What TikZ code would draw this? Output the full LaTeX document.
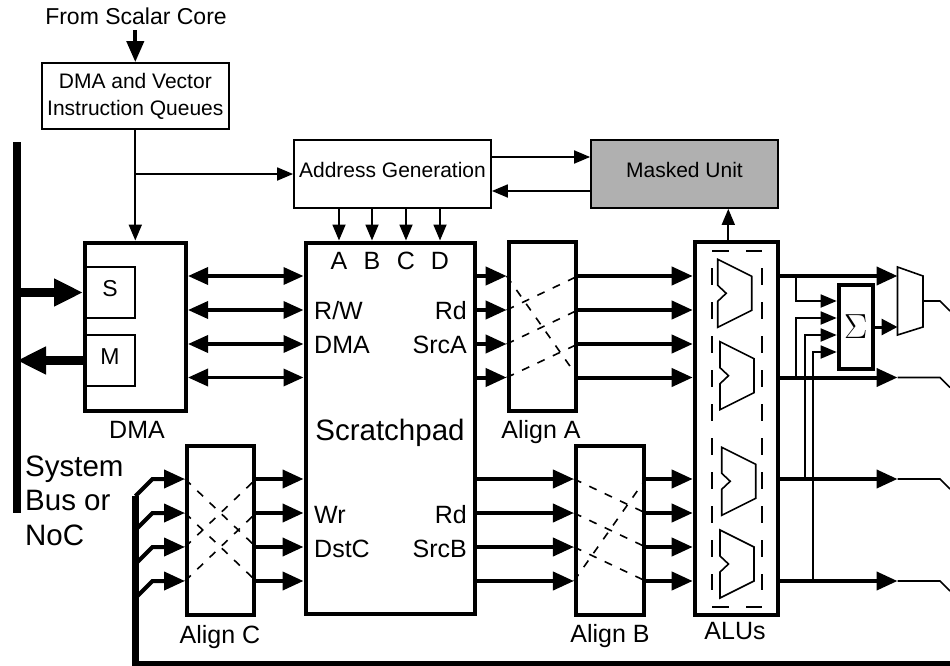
\documentclass[tikz,border=0pt]{standalone}
\usepackage{fontspec}
\setmainfont{Liberation Sans}
\usepackage{xcolor}
\usepackage{tikz}
\usetikzlibrary{arrows.meta}
\definecolor{maskgray}{HTML}{B0B0B0}
\tikzset{
  box/.style={draw=black, line width=1.8pt, inner sep=0pt, align=center, text height=0.72em, text depth=0pt},
  heavy/.style={box, line width=4pt},
  labs/.style={font=\fontsize{21}{27}\selectfont},
  labm/.style={font=\fontsize{25}{30}\selectfont, inner sep=0pt, anchor=base},
  labl/.style={font=\fontsize{29.5}{34}\selectfont, inner sep=0pt, anchor=base},
  wire/.style={draw=black, line width=1.8pt, -{Triangle[length=16pt,width=13pt]}},
  plain/.style={draw=black, line width=1.6pt},
  data/.style={draw=black, line width=4pt, -{Triangle[length=21pt,width=18pt]}},
  both/.style={draw=black, line width=3.5pt, {Triangle[length=20pt,width=17pt]}-{Triangle[length=20pt,width=17pt]}},
  link/.style={draw=black, line width=8.5pt, -{Triangle[length=29pt,width=26pt]}},
  cross/.style={draw=black, line width=1.6pt, dash pattern=on 8pt off 9pt},
  outline/.style={draw=black, line width=1.6pt, dash pattern=on 17pt off 17pt},
  alu/.style={draw=black, line width=1.6pt, line join=miter},
}

\begin{document}
\begin{tikzpicture}[x=1pt,y=-1pt]
  \useasboundingbox (0,0) rectangle (950,666);
  \clip (0,0) rectangle (950,666);
  \foreach \i/\y in {1/276,2/310,3/344,4/377.5,5/479,6/513,7/547,8/581}
    \coordinate (r\i) at (0,\y);
  \coordinate (tip) at (897.5,0);
  \coordinate (up) at (728.3,0);
  \coordinate (muxout) at (923,301);
  \coordinate (feedtop) at (135.5,496);
  \coordinate (feedend) at (950,664.7);

  \node[font=\fontsize{23}{27}\selectfont,inner sep=0pt,anchor=base] (scalar) at (136,25) {From Scalar Core};
  \node[box,labs,minimum width=187,minimum height=66,text height=,text depth=] (queues) at (135.3,96) {DMA and Vector\\Instruction Queues};
  \node[box,labs,minimum width=197,minimum height=68] (addr) at (392.5,174) {Address Generation};
  \node[box,labs,fill=maskgray,minimum width=187,minimum height=68] (mask) at (684.5,174) {Masked Unit};
  \node[heavy,minimum width=101,minimum height=168.5] (dma) at (135.5,326.8) {};
  \node[box,font=\fontsize{23}{27}\selectfont,minimum width=50,minimum height=51] (sbox) at (110,292.5) {S};
  \node[box,font=\fontsize{23}{27}\selectfont,minimum width=50,minimum height=51] (mbox) at (110,360.5) {M};
  \node[heavy,minimum width=169,minimum height=371.5] (scratch) at (390,428.25) {};
  \node[heavy,minimum width=67.3,minimum height=169] (aligna) at (542.3,326.5) {};
  \node[heavy,minimum width=67.7,minimum height=169] (alignb) at (609.8,530.5) {};
  \node[heavy,minimum width=67,minimum height=168.7] (alignc) at (220.5,530.4) {};
  \node[heavy,minimum width=82.8,minimum height=372.7] (alus) at (736.1,428.35) {};
  \node[heavy,minimum width=34,minimum height=84.3,text height=,text depth=] (sigma) at (855.7,327) {\scalebox{1.4}{\Huge$\Sigma$}};
  \node[fill=black,inner sep=0pt,minimum width=8,minimum height=371] (sysbus) at (17,327.5) {};

  \node[labm] (dmalab) at (137,438) {DMA};
  \node[labl] (padlab) at (390,440) {Scratchpad};
  \node[labm] (alignalab) at (541,438) {Align A};
  \node[labm] (alignblab) at (610,642) {Align B};
  \node[labm] (aligncab) at (220,643) {Align C};
  \node[labm] (aluslab) at (735,639) {ALUs};
  \node[labl,anchor=base west] (system) at (25,476) {System};
  \node[labl,anchor=base west] (buslab) at (25,510) {Bus or};
  \node[labl,anchor=base west] (noc) at (25,545) {NoC};
  \node[labm,anchor=base west] (rw) at (314,319) {R/W};
  \node[labm,anchor=base west] (dmaport) at (314,353) {DMA};
  \node[labm,anchor=base east] (rda) at (467,319) {Rd};
  \node[labm,anchor=base east] (srca) at (467,353) {SrcA};
  \node[labm,anchor=base west] (wr) at (314,523) {Wr};
  \node[labm,anchor=base west] (dstc) at (314,557) {DstC};
  \node[labm,anchor=base east] (rdb) at (467,523) {Rd};
  \node[labm,anchor=base east] (srcb) at (467,557) {SrcB};

  \foreach \n/\x in {A/339,B/372,C/406,D/440} {
    \node[labm] (lab\n) at (\x,269) {\n};
    \draw[wire] (lab\n |- addr.south) -- (lab\n |- scratch.north);
  }

  \draw[data,line width=4pt,-{Triangle[length=21pt,width=17pt]}] (queues.north |- scalar.south) ++(0,5) -- (queues.north);
  \draw[wire] (queues.south) -- (queues.south |- dma.north);
  \draw[wire] (queues.south |- addr.west) -- (addr.west);
  \draw[wire] (addr.east |- 0,157) -- (mask.west |- 0,157);
  \draw[wire] (mask.west |- 0,191) -- (addr.east |- 0,191);
  \draw[wire] (up |- alus.north) -- (up |- mask.south);

  \draw[link] (sysbus.east |- sbox) -- (dma.west |- sbox);
  \draw[link] (dma.west |- mbox) -- (sysbus.center |- mbox);

  \foreach \i in {1,2,3,4} {
    \draw[both] (dma.east |- r\i) -- (scratch.west |- r\i);
    \draw[data] (scratch.east |- r\i) -- (aligna.west |- r\i);
    \draw[data] (aligna.east |- r\i) -- (alus.west |- r\i);
  }
  \foreach \i in {5,6,7,8} {
    \draw[data] (scratch.east |- r\i) -- (alignb.west |- r\i);
    \draw[data] (alignb.east |- r\i) -- (alus.west |- r\i);
    \draw[data] (alignc.east |- r\i) -- (scratch.west |- r\i);
    \draw[data] (feedtop |- r\i) ++(0,17) -- ++(17,-17) -- (alignc.west |- r\i);
  }
  \draw[draw=black,line width=7.5pt] (feedtop) |- (feedend);

  \foreach \a/\b in {1/4,2/1,3/2,4/3}
    \draw[cross] (aligna.west |- r\a) -- (aligna.east |- r\b);
  \foreach \a/\b in {5/6,6/7,7/8,8/5}
    \draw[cross] (alignb.west |- r\a) -- (alignb.east |- r\b);
  \foreach \a/\b in {5/7,6/8,7/5,8/6}
    \draw[cross] (alignc.west |- r\a) -- (alignc.east |- r\b);

  \draw[outline] (712,251) -- (762,251) (712,607) -- (762,607) (712,268) -- (712,590) (762,268) -- (762,590);
  \foreach \x/\y in {717.7/259.3,720/341.7,721.7/447.3,720/530}
    \draw[alu,shift={(\x,\y)}] (0,0) -- (34,17) -- (34,51) -- (0,68) -- (0,42) -- (8.5,34) -- (0,26) -- cycle;

  \foreach \i in {1,4,5,8}
    \draw[data] (alus.east |- r\i) -- (tip |- r\i);
  \foreach \i in {4,5,8}
    \draw[plain] (tip |- r\i) -- ++(42.5,0) -- ++(10,10);
  \draw[plain] (tip |- 0,267) -- (923,276) -- (923,327) -- (tip |- 0,335) -- cycle;
  \draw[plain] (muxout) -- ++(17,0) -- ++(10,10);
  \draw[wire,line width=3pt,-{Triangle[length=16pt,width=16pt]}] (sigma.east) -- (tip |- sigma.east);
  \foreach \t/\r/\y in {796/1/301,796/4/318,805/5/335,813/8/352} {
    \coordinate (tap) at (\t,\y);
    \draw[wire] (tap |- r\r) -- (tap) -- (sigma.west |- tap);
  }
\end{tikzpicture}
\end{document}
